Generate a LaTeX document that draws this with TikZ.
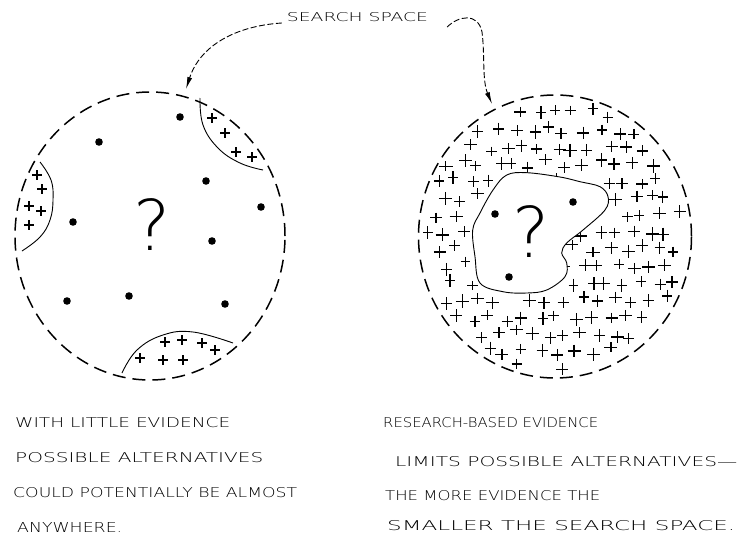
\documentclass[tikz,border=0pt]{standalone}
\usepackage{graphicx}
\usepackage{fontspec}
\usetikzlibrary{arrows.meta,shapes.geometric}
\newfontfamily\hand{DejaVu Sans ExtraLight}
\newcommand{\hl}[3]{\resizebox{#1pt}{#2pt}{\hand #3}}
\begin{document}
\begin{tikzpicture}[x=1pt,y=-1pt,
  dashcirc/.style={ellipse, draw, line width=1.5pt, dash pattern=on 13pt off 7pt, inner sep=0pt},
  thinline/.style={line width=0.9pt},
  pluss/.style={line width=1.2pt},
  handtxt/.style={inner sep=0pt, anchor=west},
  arr/.style={line width=0.9pt, dash pattern=on 6pt off 2.5pt, -{Latex[length=12pt,width=5pt]}},
  qmark/.style={inner sep=0pt, font=\fontsize{70}{70}\hand}
]
\useasboundingbox (0,0) rectangle (746,538);

% circles
\node[dashcirc, minimum width=270pt, minimum height=288pt] (L) at (150,236) {};
\node[dashcirc, minimum width=273pt, minimum height=283pt] (R) at (555,236.5) {};

% label and arrows
\node[inner sep=0pt] (ss) at (357.5,17) {\hl{141}{9}{SEARCH SPACE}};
\coordinate (la) at (186,89);
\coordinate (ra) at (492,104);
\draw[arr] ([xshift=-5pt,yshift=-6pt]ss.west) .. controls (235,26) and (200,46) .. (la);
\draw[arr] ([xshift=19pt,yshift=-10pt]ss.east) .. controls (458,16) and (478,12) .. (482,32)
  .. controls (485,55) and (482,80) .. (ra);

% left circle lenses
\draw[thinline] plot[smooth, tension=0.7] coordinates {(200,98) (203,125) (218,148) (240,163) (263,170)};
\draw[thinline] plot[smooth, tension=0.7] coordinates {(40,162) (51,180) (53,200) (50,220) (40,237) (22,251)};
\draw[thinline] plot[smooth, tension=0.7] coordinates {(122,373) (137,350) (163,335) (193,332) (233,343)};
\foreach \p in {(212,118),(225,133),(236,152),(252,157),
                (37,175),(42,189),(29,206),(41,211),(29,225),
                (165,342),(182,340),(202,343),(215,350),(140,358),(163,360),(183,360)}{
  \draw[pluss] \p ++(-5,0) -- ++(10,0) \p ++(0,-5) -- ++(0,10);
}
% left dots
\foreach \p in {(180,117),(99,142),(206,181),(261,207),(73,222),(212,241),(67,301),(129,296),(225,304)}{
  \fill \p circle (3.8);
}
\node[qmark] (q1) at (152,225) {?};

% right circle pluses
\pgfmathsetseed{7}
\foreach \j in {0,...,17}{
  \foreach \i in {0,...,17}{
    \pgfmathsetmacro\px{412+17*\i+8.5*mod(\j,2)+4.5*rand}
    \pgfmathsetmacro\py{96+17*\j+4.5*rand}
    \pgfmathsetmacro\a{4.8+2*rnd}
    \pgfmathsetmacro\b{4.8+2*rnd}
    \pgfmathtruncatemacro\ok{((\px-555)/129)^2+((\py-236.5)/134)^2<1 && ((\px-519)/50)^2+((\py-234)/64)^2>1 && ((\px-584)/29)^2+((\py-202)/26)^2>1}
    \ifnum\ok=1
      \draw[pluss] (\px-\a,\py) -- (\px+\a,\py) (\px,\py-\b) -- (\px,\py+\b);
    \fi
  }
}
% blob
\draw[thinline, fill=white] plot[smooth cycle, tension=0.6] coordinates {
 (506.7,175) (526.7,172.7) (560,177) (580,181.7) (600,186.7) (608,196.7) (605,210)
 (583,230) (566.7,243) (561.7,253) (566.7,263) (565,276.7) (546.7,290) (526.7,293)
 (503,291.7) (480,283) (475,256.7) (472.7,230) (480,213) (493,190)};
\foreach \p in {(495,214),(573,202),(509,277)}{
  \fill \p circle (3.8);
}
\node[qmark] (q2) at (531,232) {?};

% captions
\node[handtxt] (l1) at (15,423) {\hl{215}{10}{WITH LITTLE EVIDENCE}};
\node[handtxt] (l2) at (15,458) {\hl{248}{10}{POSSIBLE ALTERNATIVES}};
\node[handtxt] (l3) at (13,493) {\hl{284}{10}{COULD POTENTIALLY BE ALMOST}};
\node[handtxt] (l4) at (17,527) {\hl{105}{10}{ANYWHERE.}};
\node[handtxt] (r1) at (383,423) {\hl{215}{10}{RESEARCH-BASED EVIDENCE}};
\node[handtxt] (r2) at (395,462) {\hl{342}{10}{LIMITS POSSIBLE ALTERNATIVES—}};
\node[handtxt] (r3) at (385,496) {\hl{215}{10}{THE MORE EVIDENCE THE}};
\node[handtxt] (r4) at (387,526) {\hl{348}{10}{SMALLER THE SEARCH SPACE.}};
\end{tikzpicture}
\end{document}
